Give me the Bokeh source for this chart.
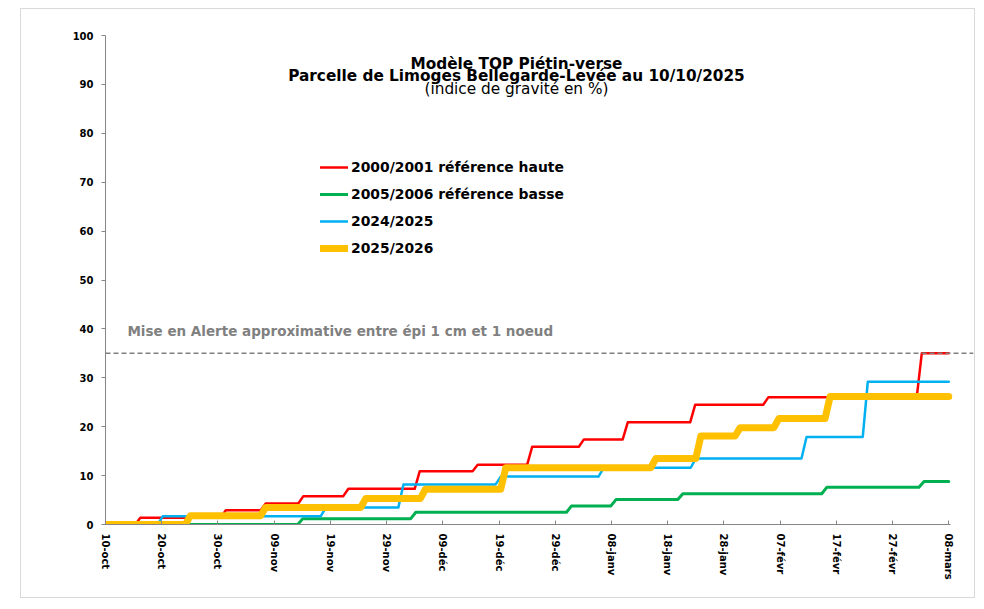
import math
from bokeh.plotting import figure
from bokeh.models import Range1d, Label, Span, Legend, LegendItem, FixedTicker
from bokeh.embed import file_html
from bokeh.resources import INLINE

# ---- data (day index from 10-oct) ----
tick_days = [0, 10, 20, 30, 40, 50, 60, 70, 80, 90, 100, 110, 120, 130, 140, 150]
tick_labels = ["10-oct", "20-oct", "30-oct", "09-nov", "19-nov", "29-nov", "09-déc",
               "19-déc", "29-déc", "08-janv", "18-janv", "28-janv", "07-févr",
               "17-févr", "27-févr", "08-mars"]
last_day = 150

red_days = [5.3, 20.5, 27.6, 34.3, 42.3, 55.0, 65.3, 75.0, 84.2, 92.0, 104.0, 117.0, 144.3]
red_vals = [0, 1.4, 2.9, 4.3, 5.8, 7.3, 10.9, 12.2, 15.9, 17.4, 20.9, 24.5, 26.0, 35.0]

green_days = [34.2, 54.3, 82.0, 89.9, 101.8, 127.4, 144.7]
green_vals = [0, 1.2, 2.5, 3.8, 5.1, 6.3, 7.6, 8.8]

blue_days = [9.3, 38.3, 52.1, 69.4, 87.7, 104.1, 123.8, 134.7]
blue_vals = [0, 1.7, 3.5, 8.2, 9.8, 11.6, 13.5, 17.9, 29.2]

yellow_days = [14.2, 27.6, 45.4, 56.0, 70.3, 97.0, 105.0, 112.0, 118.9, 128.0]
yellow_vals = [0, 1.8, 3.5, 5.3, 7.2, 11.6, 13.5, 18.1, 19.8, 21.7, 26.2]

threshold = 35

series_names = ["2000/2001 référence haute", "2005/2006 référence basse", "2024/2025", "2025/2026"]


def steps(days, vals, end=last_day, ramp=0.9):
    xs, ys = [0], [vals[0]]
    for d, v0, v1 in zip(days, vals[:-1], vals[1:]):
        xs += [d, d + ramp]
        ys += [v0, v1]
    xs.append(end)
    ys.append(vals[-1])
    return xs, ys


FONT = "DejaVu Sans"

p = figure(width=955, height=590, output_backend="svg", toolbar_location=None,
           x_range=Range1d(0, 154.4), y_range=Range1d(0, 100),
           min_border_left=84, min_border_right=3, min_border_top=26, min_border_bottom=75)
p.margin = (8, 0, 0, 20)
p.styles = {"border": "1px solid #d9d9d9"}
p.background_fill_color = "white"
p.border_fill_color = "white"
p.outline_line_color = None
p.xgrid.visible = False
p.ygrid.visible = False

# axes
p.yaxis.ticker = FixedTicker(ticks=list(range(0, 101, 10)))
p.xaxis.ticker = FixedTicker(ticks=tick_days)
p.xaxis.major_label_overrides = {d: l for d, l in zip(tick_days, tick_labels)}
p.xaxis.major_label_orientation = -math.pi / 2
p.xaxis.bounds = (0, 150.3)
for ax in (p.xaxis, p.yaxis):
    ax.axis_line_color = "#868686"
    ax.major_tick_line_color = "#868686"
    ax.minor_tick_line_color = None
    ax.major_label_text_font = FONT
    ax.major_label_text_font_style = "bold"
    ax.major_label_text_font_size = "10px"
    ax.major_label_text_color = "black"
p.yaxis.major_tick_out = 4
p.yaxis.major_tick_in = 0
p.yaxis.major_label_standoff = 8
p.xaxis.major_tick_out = 0
p.xaxis.major_tick_in = 4
p.xaxis.major_label_standoff = 9

# threshold
p.add_layout(Span(location=threshold, dimension="width", line_color="#808080",
                  line_width=1.5, line_dash="5 3"))
p.add_layout(Label(x=3.9, y=39.5, text="Mise en Alerte approximative entre épi 1 cm et 1 noeud",
                   text_font=FONT, text_font_style="bold", text_font_size="13.5px",
                   text_color="#808080", text_baseline="alphabetic"))

# series
specs = [
    (red_days, red_vals, "#FF0000", 2.5),
    (green_days, green_vals, "#00B050", 3),
    (blue_days, blue_vals, "#00B0F0", 2.5),
    (yellow_days, yellow_vals, "#FFC000", 7),
]
items = []
for (d, v, c, w), name in zip(specs, series_names):
    xs, ys = steps(d, v)
    r = p.line(xs, ys, line_color=c, line_width=w, line_join="round", line_cap="round")
    items.append(LegendItem(label=name, renderers=[r]))

legend = Legend(items=items, location=(215, 266), padding=0, spacing=7,
                glyph_width=28, glyph_height=20, label_height=20, label_standoff=3,
                label_text_font=FONT, label_text_font_style="bold",
                label_text_font_size="13.9px", label_text_color="black",
                background_fill_alpha=0, border_line_alpha=0, margin=0)
p.add_layout(legend, "center")

# title lines
p.add_layout(Label(x=73.1, y=94.2, text="Modèle TOP Piétin-verse", text_align="center",
                   text_font=FONT, text_font_style="bold", text_font_size="15.3px",
                   text_color="black", text_baseline="alphabetic"))
p.add_layout(Label(x=73.1, y=91.8, text="Parcelle de Limoges Bellegarde-Levée au 10/10/2025",
                   text_align="center", text_font=FONT, text_font_style="bold",
                   text_font_size="15.3px", text_color="black", text_baseline="alphabetic"))
p.add_layout(Label(x=73.1, y=89.1, text="(indice de gravité en %)", text_align="center",
                   text_font=FONT, text_font_size="15.3px", text_color="black",
                   text_baseline="alphabetic"))

open("out.html", "w").write(file_html(p, INLINE))
